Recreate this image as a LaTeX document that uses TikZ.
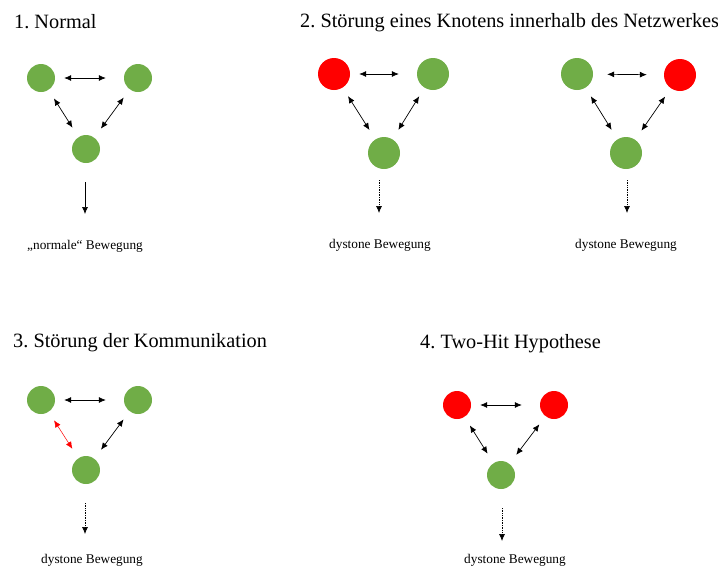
\documentclass[tikz,border=0pt]{standalone}
\usepackage{fontspec}
\setmainfont{Liberation Serif}
\usetikzlibrary{arrows.meta}
\definecolor{okgreen}{HTML}{70AD47}
\definecolor{errred}{HTML}{FF0000}
\frenchspacing
\tikzset{
  dot/.style={circle, fill=#1, draw=none, inner sep=0pt, minimum size=28pt},
  bigdot/.style={circle, fill=#1, draw=none, inner sep=0pt, minimum size=32pt},
  link/.style={line width=0.7pt, {Latex[length=7pt,width=6pt]}-{Latex[length=7pt,width=6pt]}},
  hlink/.style={link, shorten <=9pt, shorten >=18pt},
  dlink/.style={link, shorten <=10pt, shorten >=11pt},
  outarrow/.style={line width=0.7pt, -{Latex[length=7pt,width=6pt]}},
  dotarrow/.style={outarrow, densely dotted},
  title/.style={anchor=base west, inner sep=0pt, font=\fontsize{20.3}{24}\selectfont\frenchspacing},
  caption/.style={anchor=base, inner sep=0pt, font=\fontsize{13.3}{15}\selectfont},
}
\begin{document}
\begin{tikzpicture}[x=1pt,y=-1pt]
\useasboundingbox (0,0) rectangle (718,566);

% ---------- Panel 1
\node[title] (t1) at (14,28) {1. Normal};
\node[dot=okgreen] (a1) at (41,78) {};
\node[dot=okgreen] (b1) at (138,78) {};
\node[dot=okgreen] (c1) at (86,149) {};
\draw[hlink] (a1) -- (b1);
\draw[dlink] (a1) -- (c1);
\draw[dlink] (b1) -- (c1);
\coordinate (s1) at (85,182);
\coordinate (e1) at (85,214);
\draw[outarrow] (s1) -- (e1);
\node[caption] (l1) at (85,249) {„normale“ Bewegung};

% ---------- Panel 2
\node[title] (t2) at (300,27) {2. Störung eines Knotens innerhalb des Netzwerkes};
\node[bigdot=errred] (a2) at (334,74) {};
\node[bigdot=okgreen] (b2) at (433,74) {};
\node[bigdot=okgreen] (c2) at (384,153) {};
\draw[hlink] (a2) -- (b2);
\draw[dlink] (a2) -- (c2);
\draw[dlink] (b2) -- (c2);
\coordinate (s2) at (379,180);
\coordinate (e2) at (379,213);
\draw[dotarrow] (s2) -- (e2);
\node[caption] (l2) at (380,248) {dystone Bewegung};

\node[bigdot=okgreen] (a3) at (577,74) {};
\node[bigdot=errred] (b3) at (680,75) {};
\node[bigdot=okgreen] (c3) at (626,153) {};
\draw[hlink, shorten <=14pt, shorten >=17pt] (a3) -- (b3);
\draw[dlink] (a3) -- (c3);
\draw[dlink] (b3) -- (c3);
\coordinate (s3) at (627,180);
\coordinate (e3) at (627,213);
\draw[dotarrow] (s3) -- (e3);
\node[caption] (l3) at (626,248) {dystone Bewegung};

% ---------- Panel 3
\node[title] (t4) at (13,347) {3. Störung der Kommunikation};
\node[dot=okgreen] (a4) at (41,400) {};
\node[dot=okgreen] (b4) at (138,400) {};
\node[dot=okgreen] (c4) at (86,470) {};
\draw[hlink] (a4) -- (b4);
\draw[dlink, errred, line width=0.5pt] (a4) -- (c4);
\draw[dlink] (b4) -- (c4);
\coordinate (s4) at (85,503);
\coordinate (e4) at (85,534);
\draw[dotarrow] (s4) -- (e4);
\node[caption] (l4) at (92,563) {dystone Bewegung};

% ---------- Panel 4
\node[title] (t5) at (420,348) {4. Two-Hit Hypothese};
\node[dot=errred] (a5) at (457,405) {};
\node[dot=errred] (b5) at (554,405) {};
\node[dot=okgreen] (c5) at (501,475) {};
\draw[hlink] (a5) -- (b5);
\draw[dlink] (a5) -- (c5);
\draw[dlink] (b5) -- (c5);
\coordinate (s5) at (502,508);
\coordinate (e5) at (502,541);
\draw[dotarrow] (s5) -- (e5);
\node[caption] (l5) at (515,563) {dystone Bewegung};
\end{tikzpicture}
\end{document}
